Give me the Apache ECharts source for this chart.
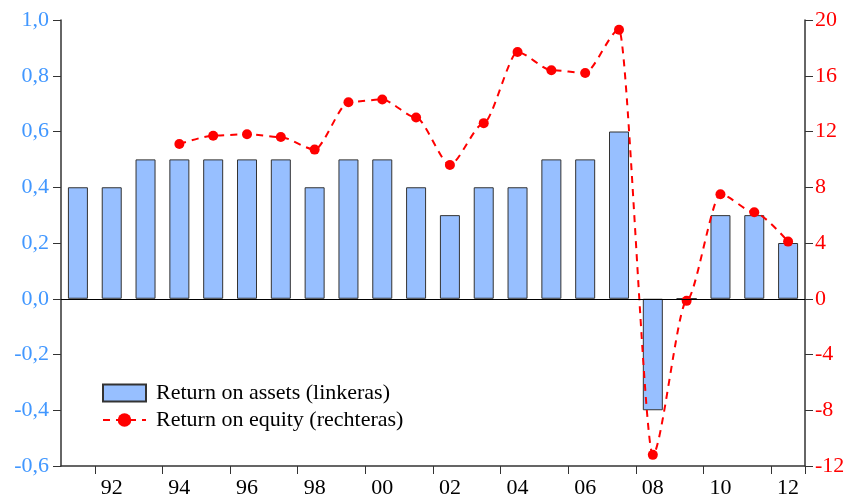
<!DOCTYPE html>
<html>
<head>
<meta charset="utf-8">
<script src="https://cdn.jsdelivr.net/npm/echarts@6/dist/echarts.min.js"></script>
<style>
	html, body { margin: 0; padding: 0; background: #fff; }
	#chart { width: 850px; height: 500px; }
</style>
</head>
<body>
<div id="chart"></div>
<script>
	// jaren 1991 - 2012
	var years = ['91','92','93','94','95','96','97','98','99','00','01',
		'02','03','04','05','06','07','08','09','10','11','12'];
	// Return on assets (linkeras)
	var roa = [0.4, 0.4, 0.5, 0.5, 0.5, 0.5, 0.5, 0.4, 0.5, 0.5, 0.4,
		0.3, 0.4, 0.4, 0.5, 0.5, 0.6, -0.4, 0, 0.3, 0.3, 0.2];
	// Return on equity (rechteras)
	var roe = [null, null, null, 11.1, 11.7, 11.8, 11.6, 10.7, 14.1, 14.3, 13.0,
		9.6, 12.6, 17.7, 16.4, 16.2, 19.3, -11.2, -0.15, 7.5, 6.2, 4.1];

	var font = 'Liberation Serif';
	var chart = echarts.init(document.getElementById('chart'));

	chart.setOption({
		animation: false,
		textStyle: { fontFamily: font },
		grid: { left: 61, right: 45, top: 20, bottom: 34 },
		legend: {
			orient: 'vertical',
			left: 97,
			top: 377,
			itemWidth: 43,
			itemHeight: 17,
			itemGap: 5,
			textStyle: { fontFamily: font, fontSize: 22, lineHeight: 22, color: '#000', padding: [0, 0, 0, 5] },
			data: [
				{ name: 'Return on assets (linkeras)', icon: 'rect' },
				{ name: 'Return on equity (rechteras)' }
			]
		},
		xAxis: {
			type: 'category',
			data: years,
			boundaryGap: true,
			axisLine: { onZero: false, lineStyle: { color: '#333', width: 1.5 } },
			axisTick: { show: true, length: 8, lineStyle: { color: '#333' } },
			axisLabel: {
				interval: function (i) { return i % 2 === 1; },
				color: '#000', fontSize: 22, fontFamily: font, margin: 11
			},
			splitLine: { show: false }
		},
		yAxis: [
			{
				type: 'value',
				min: -0.6, max: 1.0, interval: 0.2,
				axisLine: { show: true, lineStyle: { color: '#333', width: 1.5 } },
				axisTick: { show: true, length: 8, lineStyle: { color: '#333' } },
				axisLabel: {
					color: '#4197ff', fontSize: 22, fontFamily: font, margin: 12,
					formatter: function (v) { return v.toFixed(1).replace('.', ','); }
				},
				splitLine: { show: false }
			},
			{
				type: 'value',
				min: -12, max: 20, interval: 4,
				axisLine: { show: true, lineStyle: { color: '#333', width: 1.5 } },
				axisTick: { show: true, length: 8, lineStyle: { color: '#333' } },
				axisLabel: { color: '#ff0000', fontSize: 22, fontFamily: font, margin: 10 },
				splitLine: { show: false }
			}
		],
		series: [
			{
				name: 'Return on assets (linkeras)',
				type: 'bar',
				yAxisIndex: 0,
				data: roa,
				barWidth: 20,
				itemStyle: { color: '#97bfff', borderColor: '#333', borderWidth: 1 },
				markLine: {
					silent: true,
					symbol: 'none',
					label: { show: false },
					lineStyle: { color: '#000', type: 'solid', width: 1.2 },
					data: [{ yAxis: 0 }]
				}
			},
			{
				name: 'Return on equity (rechteras)',
				type: 'line',
				yAxisIndex: 1,
				data: roe,
				smooth: 0.25,
				smoothMonotone: 'x',
				symbol: 'circle',
				symbolSize: 10,
				itemStyle: { color: '#ff0000' },
				lineStyle: { color: '#ff0000', width: 2, type: [7, 6] }
			}
		]
	});
</script>
</body>
</html>
